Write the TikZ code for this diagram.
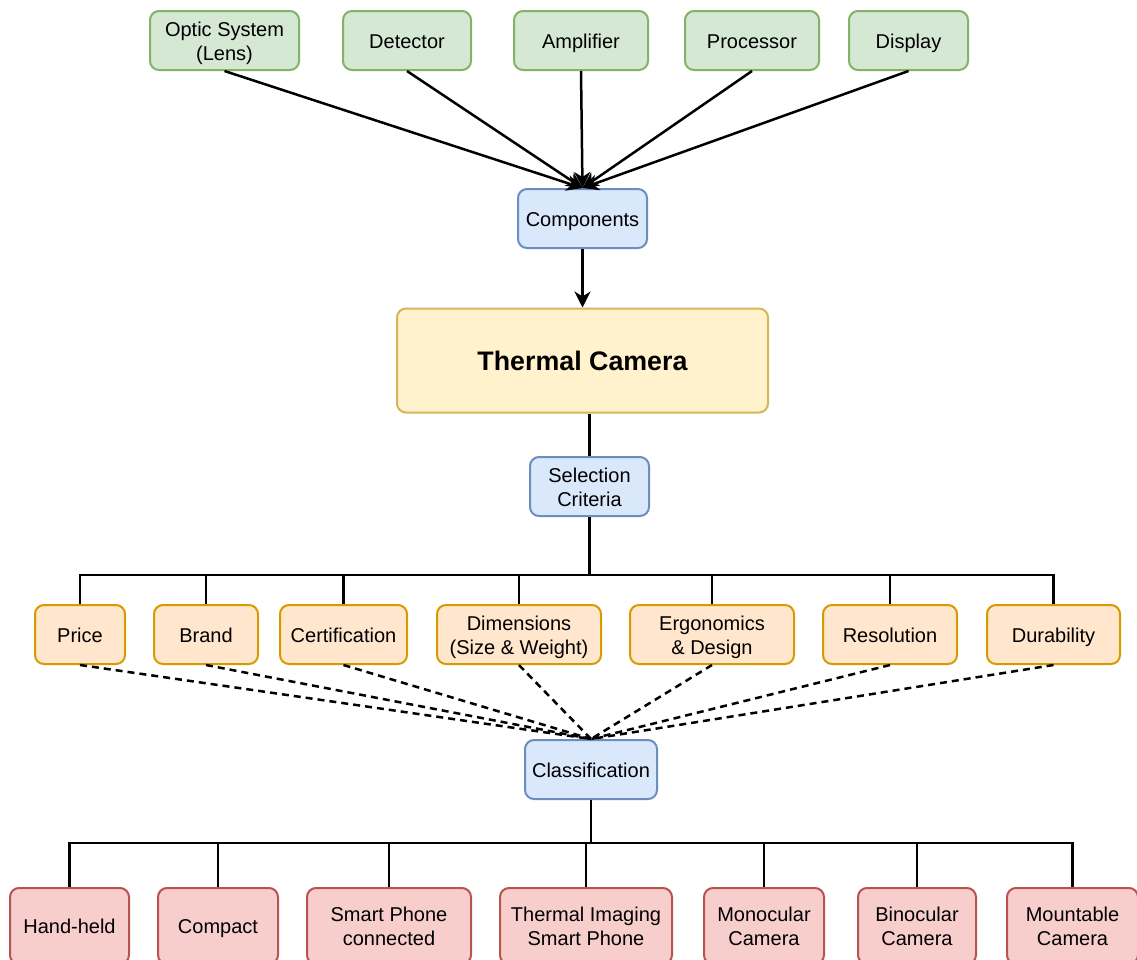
\documentclass[tikz,border=0pt]{standalone}
\usepackage{fontspec}
\setmainfont{Liberation Sans}
\usetikzlibrary{arrows.meta}
\definecolor{gfill}{HTML}{D5E8D4}\definecolor{gdraw}{HTML}{82B366}
\definecolor{bfill}{HTML}{DAE8FC}\definecolor{bdraw}{HTML}{6C8EBF}
\definecolor{yfill}{HTML}{FFF2CC}\definecolor{ydraw}{HTML}{D6B656}
\definecolor{ofill}{HTML}{FFE6CC}\definecolor{odraw}{HTML}{D79B00}
\definecolor{rfill}{HTML}{F8CECC}\definecolor{rdraw}{HTML}{B85450}
\newcommand\mystrut{\rule[-2.5pt]{0pt}{12.5pt}}
\newcommand\twol[2]{\mystrut#1\\#2\mystrut}
\setlength{\lineskiplimit}{-20pt}
\tikzset{
  box/.style={rounded corners=4.5pt, line width=1pt, align=center, inner sep=0pt,
    font=\fontsize{10}{12}\selectfont, text=black,
    execute at begin node=\mystrut, execute at end node=\mystrut},
  gbox/.style={box, fill=gfill, draw=gdraw, minimum height=29.5pt},
  bbox/.style={box, fill=bfill, draw=bdraw, minimum height=29.5pt},
  ybox/.style={rounded corners=4.5pt, line width=1pt, inner sep=0pt, text=black, fill=yfill, draw=ydraw},
  obox/.style={box, fill=ofill, draw=odraw, minimum height=29.5pt},
  rbox/.style={box, fill=rfill, draw=rdraw, minimum height=38pt},
  conn/.style={line width=1.25pt, black},
  arr/.style={conn, -{Stealth[length=8pt,width=8pt,inset=2.5pt]}},
  dconn/.style={conn, dash pattern=on 3.5pt off 2.5pt},
}
\begin{document}
\begin{tikzpicture}[x=0.5pt,y=-0.5pt]
\clip (0,0) rectangle (1137,960);
\fill[white] (0,0) rectangle (1137,960);
% top components
\node[gbox, minimum width=74.5pt] (optic) at (224.5,40.5) {\twol{Optic System}{(Lens)}};
\node[gbox, minimum width=64pt] (det) at (407,40.5) {Detector};
\node[gbox, minimum width=67pt] (amp) at (581,40.5) {Amplifier};
\node[gbox, minimum width=67pt] (proc) at (752,40.5) {Processor};
\node[gbox, minimum width=59.5pt] (disp) at (908.5,40.5) {Display};
\node[bbox, minimum width=64.5pt] (comp) at (582.5,218.5) {Components};
\node[ybox, minimum width=185.5pt, minimum height=52pt, font=\fontsize{13.4}{15}\selectfont\bfseries] (cam) at (582.5,360.5) {Thermal Camera};
\node[bbox, minimum width=59.5pt] (sel) at (589.5,486.5) {\twol{Selection}{Criteria}};
% criteria
\node[obox, minimum width=45pt] (price) at (80,634.5) {Price};
\node[obox, minimum width=52pt] (brand) at (206,634.5) {Brand};
\node[obox, minimum width=63.5pt] (cert) at (343.5,634.5) {Certification};
\node[obox, minimum width=82pt] (dim) at (519,634.5) {\twol{Dimensions}{(Size \& Weight)}};
\node[obox, minimum width=82pt] (ergo) at (712,634.5) {\twol{Ergonomics}{\& Design}};
\node[obox, minimum width=67pt] (res) at (890,634.5) {Resolution};
\node[obox, minimum width=66.5pt] (dur) at (1053.5,634.5) {Durability};
\node[bbox, minimum width=66pt] (cls) at (591,769.5) {Classification};
% classes
\node[rbox, minimum width=59.5pt] (hand) at (69.5,926) {Hand-held};
\node[rbox, minimum width=60pt] (compact) at (218,926) {Compact};
\node[rbox, minimum width=82pt] (spc) at (389,926) {\twol{Smart Phone}{connected}};
\node[rbox, minimum width=86pt] (tisp) at (586,926) {\twol{Thermal Imaging}{Smart Phone}};
\node[rbox, minimum width=60pt] (mono) at (764,926) {\twol{Monocular}{Camera}};
\node[rbox, minimum width=59pt] (bino) at (917,926) {\twol{Binocular}{Camera}};
\node[rbox, minimum width=65.5pt] (mount) at (1072.5,926) {\twol{Mountable}{Camera}};
% connectors
\foreach \n in {optic,det,amp,proc,disp} \draw[arr] (\n.south) -- (comp.north);
\draw[arr] (comp.south) -- (cam.north);
\draw[conn] (sel.north |- cam.south) -- (sel.north);
\coordinate (bus1) at (589.5,575);
\foreach \n in {price,brand,cert,dim,ergo,res,dur} \draw[conn] (sel.south) -- (bus1) -| (\n.north);
\foreach \n in {price,brand,cert,dim,ergo,res,dur} \draw[dconn] (\n.south) -- (cls.north);
\coordinate (bus2) at (591,843);
\foreach \n in {hand,compact,spc,tisp,mono,bino,mount} \draw[conn] (cls.south) -- (bus2) -| (\n.north);
\end{tikzpicture}
\end{document}
